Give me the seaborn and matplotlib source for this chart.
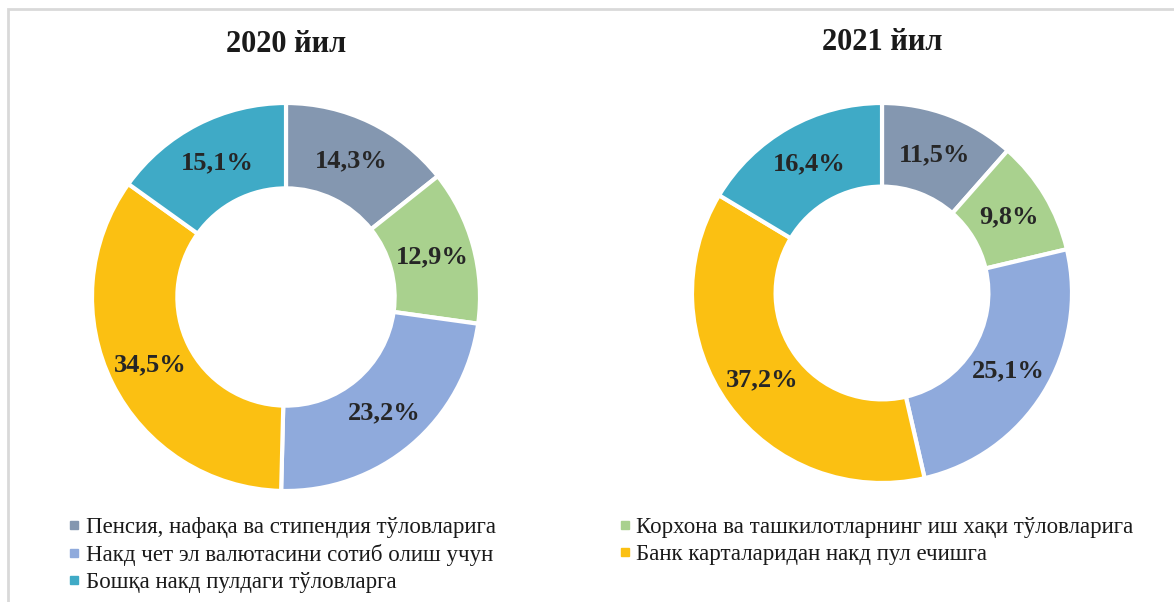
import matplotlib
matplotlib.use("Agg")
import numpy as np
import matplotlib.pyplot as plt
import seaborn as sns
from matplotlib.patches import Rectangle
from matplotlib.lines import Line2D

sns.set_theme(style="white")
plt.rcParams["font.family"] = ["Liberation Serif", "DejaVu Serif"]

# Categories (legend order) and their shares, %
categories = [
    "Пенсия, нафақа ва стипендия тўловларига",
    "Корхона ва ташкилотларнинг иш хақи тўловларига",
    "Накд чет эл валютасини сотиб олиш учун",
    "Банк карталаридан накд пул ечишга",
    "Бошқа накд пулдаги тўловларга",
]
shares_2020 = [14.3, 12.9, 23.2, 34.5, 15.1]
shares_2021 = [11.5, 9.8, 25.1, 37.2, 16.4]
titles = ["2020 йил", "2021 йил"]

colors = sns.color_palette(["#8497B0", "#A9D18E", "#8FAADC", "#FBC012", "#3FAAC6"])

W, H = 1174, 602
fig = plt.figure(figsize=(W / 100, H / 100), dpi=100)
fig.patch.set_facecolor("white")

# light frame around the chart area
fig.patches.append(Rectangle((8 / W, -0.1), 1.2, (H - 9) / H + 0.1,
                             transform=fig.transFigure, fill=False,
                             edgecolor="#D9D9D9", linewidth=2))


def pct_label(v):
    return f"{v:.1f}".replace(".", ",") + "%"


def donut(cx, cy, r, values, title, title_y):
    ax = fig.add_axes([(cx - r) / W, (H - cy - r) / H, 2 * r / W, 2 * r / H])
    ax.pie(values, colors=colors, startangle=90, counterclock=False,
           radius=1.0,
           wedgeprops=dict(width=0.44, edgecolor="white", linewidth=3))
    # value labels at the middle of the ring
    total = sum(values)
    start = 90.0
    for v in values:
        ang = np.deg2rad(start - 360 * v / total / 2)
        start -= 360 * v / total
        rr = 0.78
        ax.text(rr * np.cos(ang), rr * np.sin(ang), pct_label(v),
                ha="center", va="center", fontsize=19,
                fontweight="bold", color="#262626")
    ax.set_xlim(-1, 1)
    ax.set_ylim(-1, 1)
    ax.set_aspect("equal")
    ax.axis("off")
    fig.text(cx / W, 1 - title_y / H, title, ha="center", va="center",
             fontsize=22, fontweight="bold", color="#1a1a1a")


donut(286, 297, 194, shares_2020, titles[0], 45)
donut(882, 293, 190, shares_2021, titles[1], 42)

# legend: two columns filled row by row
handles = [Line2D([0], [0], marker="s", linestyle="none", markersize=5.5,
                  markerfacecolor=c, markeredgecolor=c) for c in colors]
columns = [([0, 2, 4], 68.5), ([1, 3], 619)]
for idx, x0 in columns:
    fig.legend([handles[i] for i in idx], [categories[i] for i in idx],
               loc="upper left", bbox_to_anchor=(x0 / W, 1 - 517 / H),
               frameon=False, borderpad=0, borderaxespad=0,
               handlelength=0.5, handletextpad=0.25, labelspacing=0.27,
               prop={"family": ["Liberation Serif"], "size": 16.5},
               labelcolor="#1a1a1a")

fig.savefig("out.png", dpi=100, facecolor="white")
